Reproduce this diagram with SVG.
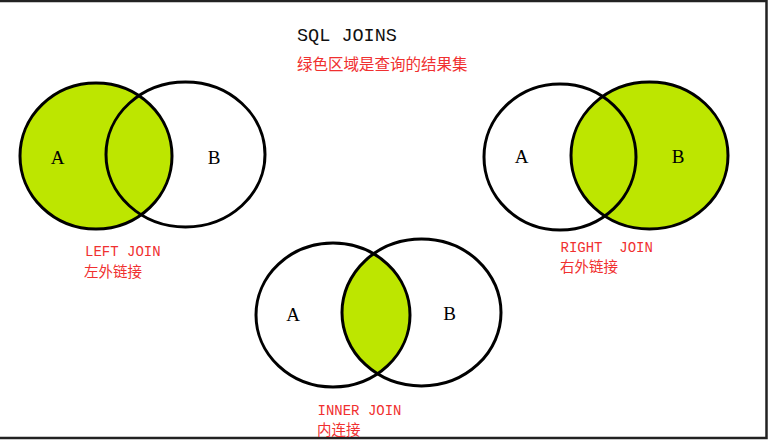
<svg xmlns="http://www.w3.org/2000/svg" width="768" height="440" viewBox="0 0 768 440">
<style>
.c{fill:none;stroke:#000;stroke-width:3}
.g{fill:#bde600;stroke:none}
.t{font-family:"Liberation Serif","Noto Sans CJK SC",serif;font-size:19px;fill:#000}
.lab{font-family:"Liberation Mono","Noto Sans CJK SC",monospace;font-size:14px;fill:#f03030;white-space:pre}
.cn{font-family:"Noto Sans CJK SC",sans-serif;font-size:14.5px;fill:#f03030}
</style>
<defs>
<clipPath id="clipB"><ellipse cx="421.5" cy="312.5" rx="79.5" ry="73.5"/></clipPath>
</defs>
<rect width="768" height="440" fill="#fff"/>
<path d="M0 1H766.5V438H0" fill="none" stroke="#222" stroke-width="2.5"/>
<g id="title">
<text x="297" y="41" style="font-family:'Liberation Mono',monospace;font-size:18.5px;fill:#111">SQL JOINS</text>
<text x="297" y="70" style="font-family:'Noto Sans CJK SC',sans-serif;font-size:15.5px;fill:#f03030">绿色区域是查询的结果集</text>
</g>
<g id="left-join">
<ellipse class="g" cx="96" cy="156" rx="76" ry="73"/>
<ellipse class="c" cx="185.5" cy="154.5" rx="79.5" ry="72.5"/>
<ellipse class="c" cx="96" cy="156" rx="76" ry="73"/>
<text class="t" x="57.5" y="164" text-anchor="middle">A</text>
<text class="t" x="214" y="164" text-anchor="middle">B</text>
<text class="lab" x="85" y="256">LEFT JOIN</text>
<text class="cn" x="84" y="277">左外链接</text>
</g>
<g id="right-join">
<ellipse class="g" cx="649.5" cy="155.5" rx="78.5" ry="73.5"/>
<ellipse class="c" cx="560" cy="157" rx="76" ry="73"/>
<ellipse class="c" cx="649.5" cy="155.5" rx="78.5" ry="73.5"/>
<text class="t" x="521.5" y="163" text-anchor="middle">A</text>
<text class="t" x="678" y="163" text-anchor="middle">B</text>
<text class="lab" x="560.5" y="252" xml:space="preserve">RIGHT  JOIN</text>
<text class="cn" x="560" y="272">右外链接</text>
</g>
<g id="inner-join">
<ellipse class="g" cx="333" cy="315" rx="77" ry="72" clip-path="url(#clipB)"/>
<ellipse class="c" cx="333" cy="315" rx="77" ry="72"/>
<ellipse class="c" cx="421.5" cy="312.5" rx="79.5" ry="73.5"/>
<text class="t" x="293" y="321" text-anchor="middle">A</text>
<text class="t" x="449.5" y="320" text-anchor="middle">B</text>
<text class="lab" x="317.5" y="415">INNER JOIN</text>
<text class="cn" x="317" y="435">内连接</text>
</g>
<g id="connectors"/>
</svg>
